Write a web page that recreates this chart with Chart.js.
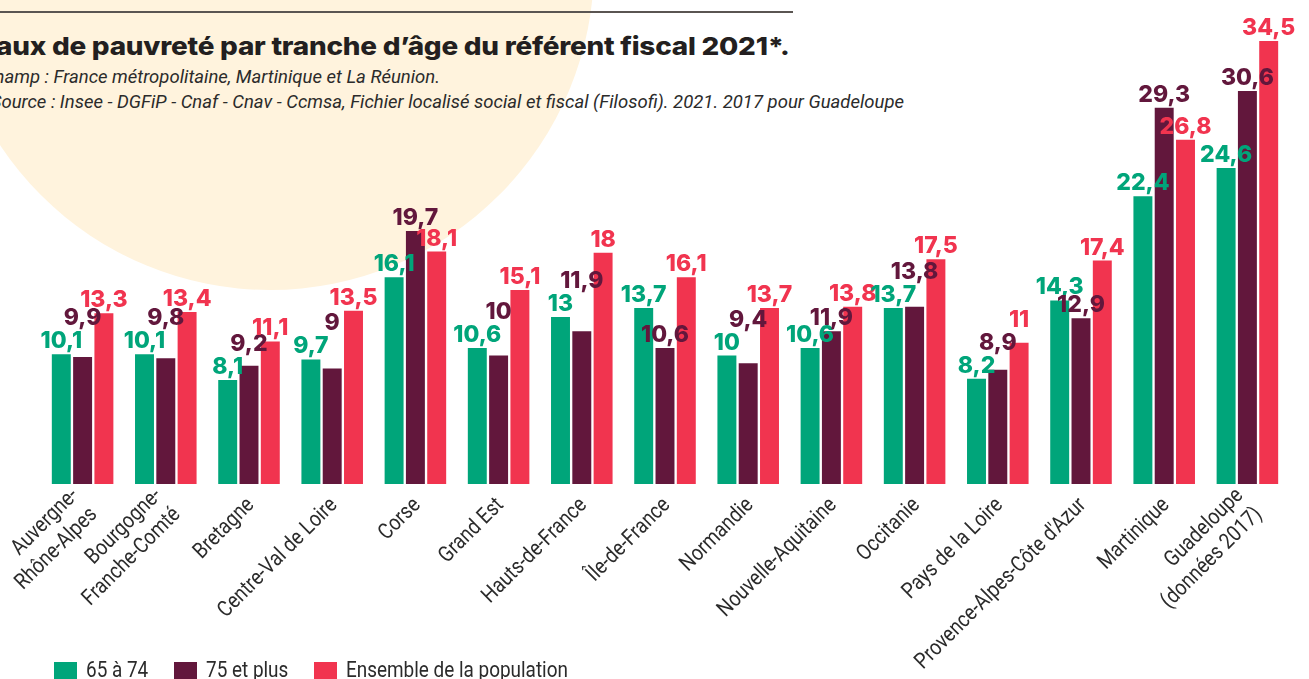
<!DOCTYPE html>
<html>
<head>
<meta charset="utf-8">
<script src="https://cdn.jsdelivr.net/npm/chart.js@4.4.1/dist/chart.umd.min.js"></script>
<style>
  html, body { margin: 0; padding: 0; background: #fff; }
  #wrap { position: relative; width: 1309px; height: 679px; overflow: hidden; }
  #circle { position: absolute; left: -54px; top: -358px; width: 648px; height: 648px; border-radius: 50%; background: #fff3dd; }
  #rule { position: absolute; left: 0; top: 11px; width: 793px; height: 2px; background: #5a5552; }
  .r { position: absolute; white-space: nowrap; line-height: 1; text-align: right; }
  #title { right: 519px; top: 31px; font: 800 25px Inter, sans-serif; color: #231f20; letter-spacing: -0.2px; transform: scaleX(1.115); transform-origin: right center; }
  .sub { font: italic 18.5px Roboto, sans-serif; color: #2b2b2b; }
  #sub1 { right: 869px; top: 66px; }
  #sub2 { right: 405px; top: 91px; }
  #chart { position: absolute; left: 0; top: 0; }
  .item { position: absolute; top: 662px; }
  .box { position: absolute; left: 0; top: 0; width: 23px; height: 23px; }
  .lab { position: absolute; left: 32px; top: -3px; white-space: nowrap; font: 22px Roboto, sans-serif; color: #2b2b2b; line-height: 1; transform: scaleX(0.86); transform-origin: left center; }
</style>
</head>
<body>
<div id="wrap">
  <div id="circle"></div>
  <div id="rule"></div>
  <div id="title" class="r">Taux de pauvreté par tranche d’âge du référent fiscal 2021*.</div>
  <div id="sub1" class="r sub">Champ : France métropolitaine, Martinique et La Réunion.</div>
  <div id="sub2" class="r sub">Source : Insee - DGFiP - Cnaf - Cnav - Ccmsa, Fichier localisé social et fiscal (Filosofi). 2021. 2017 pour Guadeloupe</div>
  <canvas id="chart" width="1309" height="679"></canvas>
  <div id="legend"></div>
</div>
<script>
const regions = [
  ['Auvergne-', 'Rhône-Alpes'],
  ['Bourgogne-', 'Franche-Comté'],
  'Bretagne',
  'Centre-Val de Loire',
  'Corse',
  'Grand Est',
  'Hauts-de-France',
  'Île-de-France',
  'Normandie',
  'Nouvelle-Aquitaine',
  'Occitanie',
  'Pays de la Loire',
  'Provence-Alpes-Côte d\'Azur',
  'Martinique',
  ['Guadeloupe', '(données 2017)']
];
const age65to74 = [10.1, 10.1, 8.1, 9.7, 16.1, 10.6, 13, 13.7, 10, 10.6, 13.7, 8.2, 14.3, 22.4, 24.6];
const age75plus = [9.9, 9.8, 9.2, 9, 19.7, 10, 11.9, 10.6, 9.4, 11.9, 13.8, 8.9, 12.9, 29.3, 30.6];
const ensemble = [13.3, 13.4, 11.1, 13.5, 18.1, 15.1, 18, 16.1, 13.7, 13.8, 17.5, 11, 17.4, 26.8, 34.5];
const seriesNames = ['65 à 74', '75 et plus', 'Ensemble de la population'];
const colors = ['#00a57a', '#62173c', '#f1344f'];
const legendLeft = [54, 174, 314];

// legend in html
const legend = document.getElementById('legend');
seriesNames.forEach((name, i) => {
  const item = document.createElement('div');
  item.className = 'item';
  item.style.left = legendLeft[i] + 'px';
  item.innerHTML = '<div class="box" style="background:' + colors[i] + '"></div><div class="lab">' + name + '</div>';
  legend.appendChild(item);
});

const fmt = v => String(v).replace('.', ',');

// value labels above bars, pushed up when they overlap a previous one
const valueLabels = {
  id: 'valueLabels',
  afterDatasetsDraw(chart) {
    const ctx = chart.ctx;
    ctx.save();
    ctx.font = '800 23px Inter';
    ctx.textAlign = 'center';
    ctx.textBaseline = 'alphabetic';
    const capH = 17;
    for (let i = 0; i < regions.length; i++) {
      const placed = [];
      chart.data.datasets.forEach((ds, d) => {
        const bar = chart.getDatasetMeta(d).data[i];
        const text = fmt(ds.data[i]);
        const w = ctx.measureText(text).width;
        const x = bar.x;
        let y = bar.y - 6;
        let moved = true;
        while (moved) {
          moved = false;
          for (const p of placed) {
            const hOver = x - w / 2 < p.x2 - 2 && x + w / 2 > p.x1 + 2;
            const vOver = y - capH < p.y2 - 2 && y > p.y1 + 2;
            if (hOver && vOver) {
              y = p.y1 - 6;
              moved = true;
            }
          }
        }
        placed.push({ x1: x - w / 2, x2: x + w / 2, y1: y - capH, y2: y });
        ctx.fillStyle = colors[d];
        ctx.fillText(text, x, y);
      });
    }
    ctx.restore();
  }
};

// rotated, condensed category labels
const catLabels = {
  id: 'catLabels',
  afterDraw(chart) {
    const ctx = chart.ctx;
    const xs = chart.scales.x;
    ctx.save();
    ctx.font = '22px Roboto';
    ctx.fillStyle = '#2b2b2b';
    ctx.textAlign = 'right';
    ctx.textBaseline = 'middle';
    regions.forEach((lab, i) => {
      const lines = Array.isArray(lab) ? lab : [lab];
      const cx = xs.getPixelForTick(i);
      lines.forEach((line, j) => {
        const k = j - (lines.length - 1) / 2;
        ctx.save();
        ctx.translate(cx + 2 + k * 19, 502 + k * 19);
        ctx.rotate(-Math.PI / 4);
        ctx.scale(0.86, 1);
        ctx.fillText(line, 0, 0);
        ctx.restore();
      });
    });
    ctx.restore();
  }
};

new Chart(document.getElementById('chart'), {
  type: 'bar',
  data: {
    labels: regions,
    datasets: [
      { label: seriesNames[0], data: age65to74, backgroundColor: colors[0] },
      { label: seriesNames[1], data: age75plus, backgroundColor: colors[1] },
      { label: seriesNames[2], data: ensemble, backgroundColor: colors[2] }
    ]
  },
  options: {
    responsive: false,
    devicePixelRatio: 1,
    animation: false,
    categoryPercentage: 0.768,
    barPercentage: 0.89,
    layout: { padding: { left: 41, right: 20, top: 41, bottom: 0 } },
    plugins: { legend: { display: false }, tooltip: { enabled: false } },
    scales: {
      x: {
        grid: { display: false },
        border: { display: false },
        ticks: { display: false },
        afterFit: s => { s.height = 195; }
      },
      y: { display: false, min: 0, max: 34.5 }
    }
  },
  plugins: [valueLabels, catLabels]
});
</script>
</body>
</html>
